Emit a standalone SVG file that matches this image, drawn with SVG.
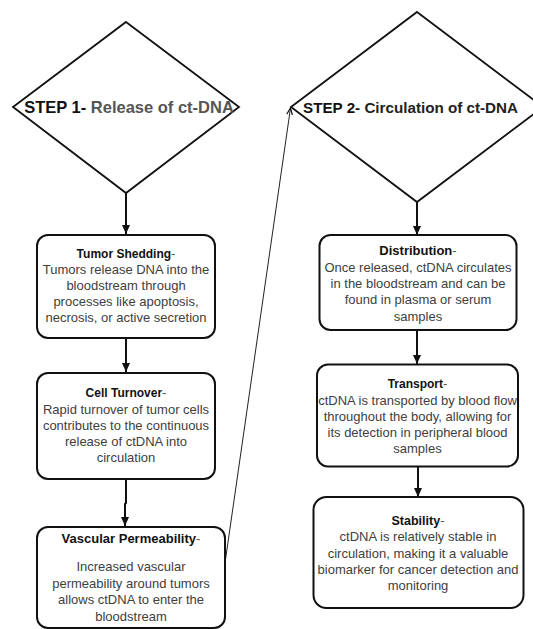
<svg xmlns="http://www.w3.org/2000/svg" width="533" height="629" viewBox="0 0 533 629">
<style>
.shape{fill:#fff;stroke:#111;stroke-width:2}
.dia{fill:#fff;stroke:#111;stroke-width:1.8}
.conn{fill:none;stroke:#111;stroke-width:2}
.thin{fill:none;stroke:#222;stroke-width:1}
text{font-family:"Liberation Sans",Arial,Helvetica,sans-serif;text-anchor:middle}
.body{font-size:13px;fill:#404040}
.ttl{font-weight:bold;fill:#111}
.dash{font-weight:normal;fill:#555}
.step{font-size:16.5px;font-weight:bold;fill:#111}
</style>
<defs>
<marker id="ah" markerWidth="10" markerHeight="10" refX="9" refY="5" orient="auto" markerUnits="userSpaceOnUse">
<path d="M0,1 L9,5 L0,9 Z" fill="#111"/>
</marker>
<marker id="ahs" markerWidth="8" markerHeight="8" refX="7" refY="4" orient="auto" markerUnits="userSpaceOnUse">
<path d="M0,1 L7,4 L0,7" fill="none" stroke="#111" stroke-width="1.2"/>
</marker>
</defs>
<rect width="533" height="629" fill="#fff"/>
<g id="connectors">
<line class="conn" x1="126" y1="193" x2="126" y2="234" marker-end="url(#ah)"/>
<line class="conn" x1="126" y1="338" x2="126" y2="372" marker-end="url(#ah)"/>
<path class="conn" d="M126,479 L126,503 L125,504 L125,526" marker-end="url(#ah)"/>
<line class="thin" x1="225" y1="563" x2="290.5" y2="108" marker-end="url(#ahs)"/>
<line class="conn" x1="417" y1="202" x2="417" y2="235" marker-end="url(#ah)"/>
<line class="conn" x1="417" y1="330" x2="417" y2="364" marker-end="url(#ah)"/>
<line class="conn" x1="418" y1="467" x2="418" y2="497" marker-end="url(#ah)"/>
</g>
<g id="step1">
<polygon class="dia" points="126,22 239,107 126,193 13,107"/>
<text class="step" x="129" y="112.8">STEP 1-<tspan fill="#555"> Release of ct-DNA</tspan></text>
</g>
<g id="step2">
<polygon class="dia" points="417,12 543,107 417,202 291,107"/>
<text class="step" x="410.5" y="112.5" style="font-size:15.2px">STEP 2-<tspan fill="#222"> Circulation of ct-DNA</tspan></text>
</g>
<g id="tumor-shedding">
<rect class="shape" x="37" y="235" width="178" height="103" rx="11"/>
<text class="body" x="126" y="257.5"><tspan class="ttl" style="font-size:12px">Tumor Shedding</tspan><tspan class="dash">-</tspan></text>
<text class="body" x="126" y="273.5">Tumors release DNA into the</text>
<text class="body" x="126" y="289.8">bloodstream through</text>
<text class="body" x="126" y="306.1">processes like apoptosis,</text>
<text class="body" x="126" y="322.4">necrosis, or active secretion</text>
</g>
<g id="cell-turnover">
<rect class="shape" x="37" y="373" width="178" height="106" rx="11"/>
<text class="body" x="126" y="397"><tspan class="ttl" style="font-size:12px">Cell Turnover</tspan><tspan class="dash">-</tspan></text>
<text class="body" x="126" y="413.7">Rapid turnover of tumor cells</text>
<text class="body" x="126" y="429.7">contributes to the continuous</text>
<text class="body" x="126" y="446">release of ctDNA into</text>
<text class="body" x="126" y="462">circulation</text>
</g>
<g id="vascular-permeability">
<rect class="shape" x="37" y="527" width="188" height="101" rx="11"/>
<text class="body" x="131" y="542.5"><tspan class="ttl">Vascular Permeability</tspan><tspan class="dash">-</tspan></text>
<text class="body" x="131" y="571">Increased vascular</text>
<text class="body" x="131" y="587.5">permeability around tumors</text>
<text class="body" x="131" y="604">allows ctDNA to enter the</text>
<text class="body" x="131" y="620.5">bloodstream</text>
</g>
<g id="distribution">
<rect class="shape" x="319.5" y="235" width="197" height="95" rx="11"/>
<text class="body" x="418" y="255"><tspan class="ttl">Distribution</tspan><tspan class="dash">-</tspan></text>
<text class="body" x="418" y="271.7">Once released, ctDNA circulates</text>
<text class="body" x="418" y="288">in the bloodstream and can be</text>
<text class="body" x="418" y="304.3">found in plasma or serum</text>
<text class="body" x="418" y="320.5">samples</text>
</g>
<g id="transport">
<rect class="shape" x="317" y="364.5" width="201" height="102" rx="11"/>
<text class="body" x="417.5" y="387.7"><tspan class="ttl" style="font-size:12px">Transport</tspan><tspan class="dash">-</tspan></text>
<text class="body" x="417.5" y="404.5">ctDNA is transported by blood flow</text>
<text class="body" x="417.5" y="420.5">throughout the body, allowing for</text>
<text class="body" x="417.5" y="436.7">its detection in peripheral blood</text>
<text class="body" x="417.5" y="453">samples</text>
</g>
<g id="stability">
<rect class="shape" x="313.5" y="497" width="210" height="111" rx="13"/>
<text class="body" x="418" y="524.5"><tspan class="ttl" style="font-size:12.5px">Stability</tspan><tspan class="dash">-</tspan></text>
<text class="body" x="418" y="541">ctDNA is relatively stable in</text>
<text class="body" x="418" y="557.5">circulation, making it a valuable</text>
<text class="body" x="418" y="573.7">biomarker for cancer detection and</text>
<text class="body" x="418" y="590">monitoring</text>
</g>
</svg>
